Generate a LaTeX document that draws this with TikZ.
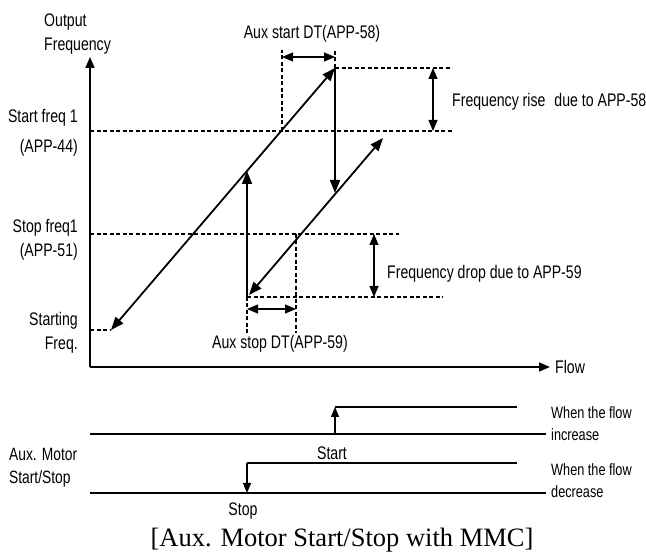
\documentclass[tikz,border=0pt]{standalone}
\usepackage{fontspec}
\setmainfont{Liberation Sans}[FakeStretch=0.775]
\newfontfamily\captionserif{Liberation Serif}
\usetikzlibrary{arrows.meta,positioning,calc}
\tikzset{
  mmcaxis/.style={-{Triangle[length=11pt,width=9pt]},line width=1.6pt},
  mmcedge/.style={line width=1.8pt},
  mmcup/.style={-{Triangle[length=13pt,width=10pt]},line width=1.8pt},
  mmcboth/.style={{Triangle[length=13pt,width=10pt]}-{Triangle[length=13pt,width=10pt]},line width=1.8pt},
  mmcdim/.style={{Triangle[length=11pt,width=9pt]}-{Triangle[length=11pt,width=9pt]},line width=1.2pt},
  mmcguide/.style={line width=1.1pt,dash pattern=on 4pt off 2.5pt},
  mmclevel/.style={line width=1.4pt},
  mmcstate/.style={line width=2.4pt},
  mmcswitch/.style={-{Triangle[length=10pt,width=8pt]},line width=1.2pt},
  mmclabel/.style={font=\fontsize{18.2}{23.5}\selectfont,inner sep=0pt},
  mmcnote/.style={font=\fontsize{16.4}{22}\selectfont,inner sep=0pt}
}
\begin{document}
\begin{tikzpicture}[x=1pt,y=-1pt]
  \useasboundingbox (0,0) rectangle (646,553);

  % axes
  \coordinate (org) at (90,367);
  \coordinate (ytop) at (90,57);
  \coordinate (xend) at (550,367);
  \draw[mmcaxis] (org) -- (ytop);
  \draw[mmcaxis] (org) -- (xend);
  \node[mmclabel,anchor=west] (flow) at (555,367) {Flow};
  \node[mmclabel,anchor=west,align=left] (outf) at (44,34) {Output\\Frequency};

  % frequency levels
  \coordinate (sf1) at (90,131);
  \coordinate (sf1e) at (452,131);
  \coordinate (risetop) at (335,68);
  \coordinate (risee) at (452,68);
  \coordinate (stf1) at (90,234);
  \coordinate (stf1e) at (399,234);
  \coordinate (droplow) at (247,297);
  \coordinate (drope) at (443,297);
  \coordinate (stfreq) at (90,330);
  \coordinate (lowend) at (111,330);
  \draw[mmcguide] (sf1) -- (sf1e);
  \draw[mmcguide] (risetop) -- (risee);
  \draw[mmcguide] (stf1) -- (stf1e);
  \draw[mmcguide] (droplow) -- (drope);
  \draw[mmcguide] (stfreq) -- (lowend);
  \node[mmclabel,anchor=east,align=right] (lsf1) at (78,133) {Start freq 1\\[6pt](APP-44)};
  \node[mmclabel,anchor=east,align=right] (lstf1) at (78,240) {Stop freq1\\(APP-51)};
  \node[mmclabel,anchor=east,align=right] (lstart) at (78,333) {Starting\\Freq.};

  % ramps
  \coordinate (upend) at (247,171);
  \coordinate (downend) at (335,193);
  \coordinate (ramp2a) at (249,295);
  \coordinate (ramp2b) at (383,138);
  \draw[mmcboth] (lowend) -- (risetop);
  \draw[mmcup] (droplow) -- (upend);
  \draw[mmcup] (risetop) -- (downend);
  \draw[mmcboth] (ramp2a) -- (ramp2b);

  % start delay
  \coordinate (dta) at (282,131);
  \coordinate (dtatop) at (282,50);
  \coordinate (dtbtop) at (335,50);
  \draw[mmcguide] (dta) -- (dtatop);
  \draw[mmcguide] (risetop) -- (dtbtop);
  \draw[mmcdim] (282,57) -- (335,57);
  \node[mmclabel] (ldts) at (312,34) {Aux start DT(APP-58)};
  \draw[mmcdim] (433,68) -- (433,131);
  \node[mmclabel,anchor=west] (lrise) at (452,102) {Frequency rise\hspace{9pt}due to APP-58};

  % stop delay
  \coordinate (dtc) at (296,234);
  \coordinate (dtclow) at (296,333);
  \coordinate (dtdlow) at (247,333);
  \draw[mmcguide] (droplow) -- (dtdlow);
  \draw[mmcguide] (dtc) -- (dtclow);
  \draw[mmcdim] (247,309) -- (296,309);
  \node[mmclabel] (ldtp) at (280,344) {Aux stop DT(APP-59)};
  \draw[mmcdim] (374,234) -- (374,297);
  \node[mmclabel,anchor=west] (ldrop) at (387,274) {Frequency drop due to APP-59};

  % motor start/stop timing
  \coordinate (incl) at (90,434);
  \coordinate (incr) at (546,434);
  \coordinate (onup) at (335,407);
  \coordinate (onupr) at (517,407);
  \coordinate (decl) at (90,493);
  \coordinate (decr) at (546,493);
  \coordinate (ondn) at (247,463);
  \coordinate (ondnr) at (517,463);
  \draw[mmclevel] (incl) -- (incr);
  \draw[mmcstate] (onup) -- (onupr);
  \draw[mmcswitch] (335,434) -- (onup);
  \draw[mmclevel] (decl) -- (decr);
  \draw[mmcstate] (ondn) -- (ondnr);
  \draw[mmcswitch] (ondn) -- (247,493);
  \node[mmclabel] (lon) at (332,453) {Start};
  \node[mmclabel] (loff) at (243,511) {Stop};
  \node[mmcnote,anchor=west,align=left] (linc) at (551,424) {When the flow\\increase};
  \node[mmcnote,anchor=west,align=left] (ldec) at (551,481) {When the flow\\decrease};
  \node[font=\fontsize{17.8}{23}\selectfont,inner sep=0pt,anchor=west,align=left] (lmot) at (9,468) {Aux. Motor\\Start/Stop};

  \node[font=\captionserif\fontsize{26.5}{30}\selectfont,inner sep=0pt] (cap) at (342,540) {[Aux. Motor Start/Stop with MMC]};
\end{tikzpicture}
\end{document}
